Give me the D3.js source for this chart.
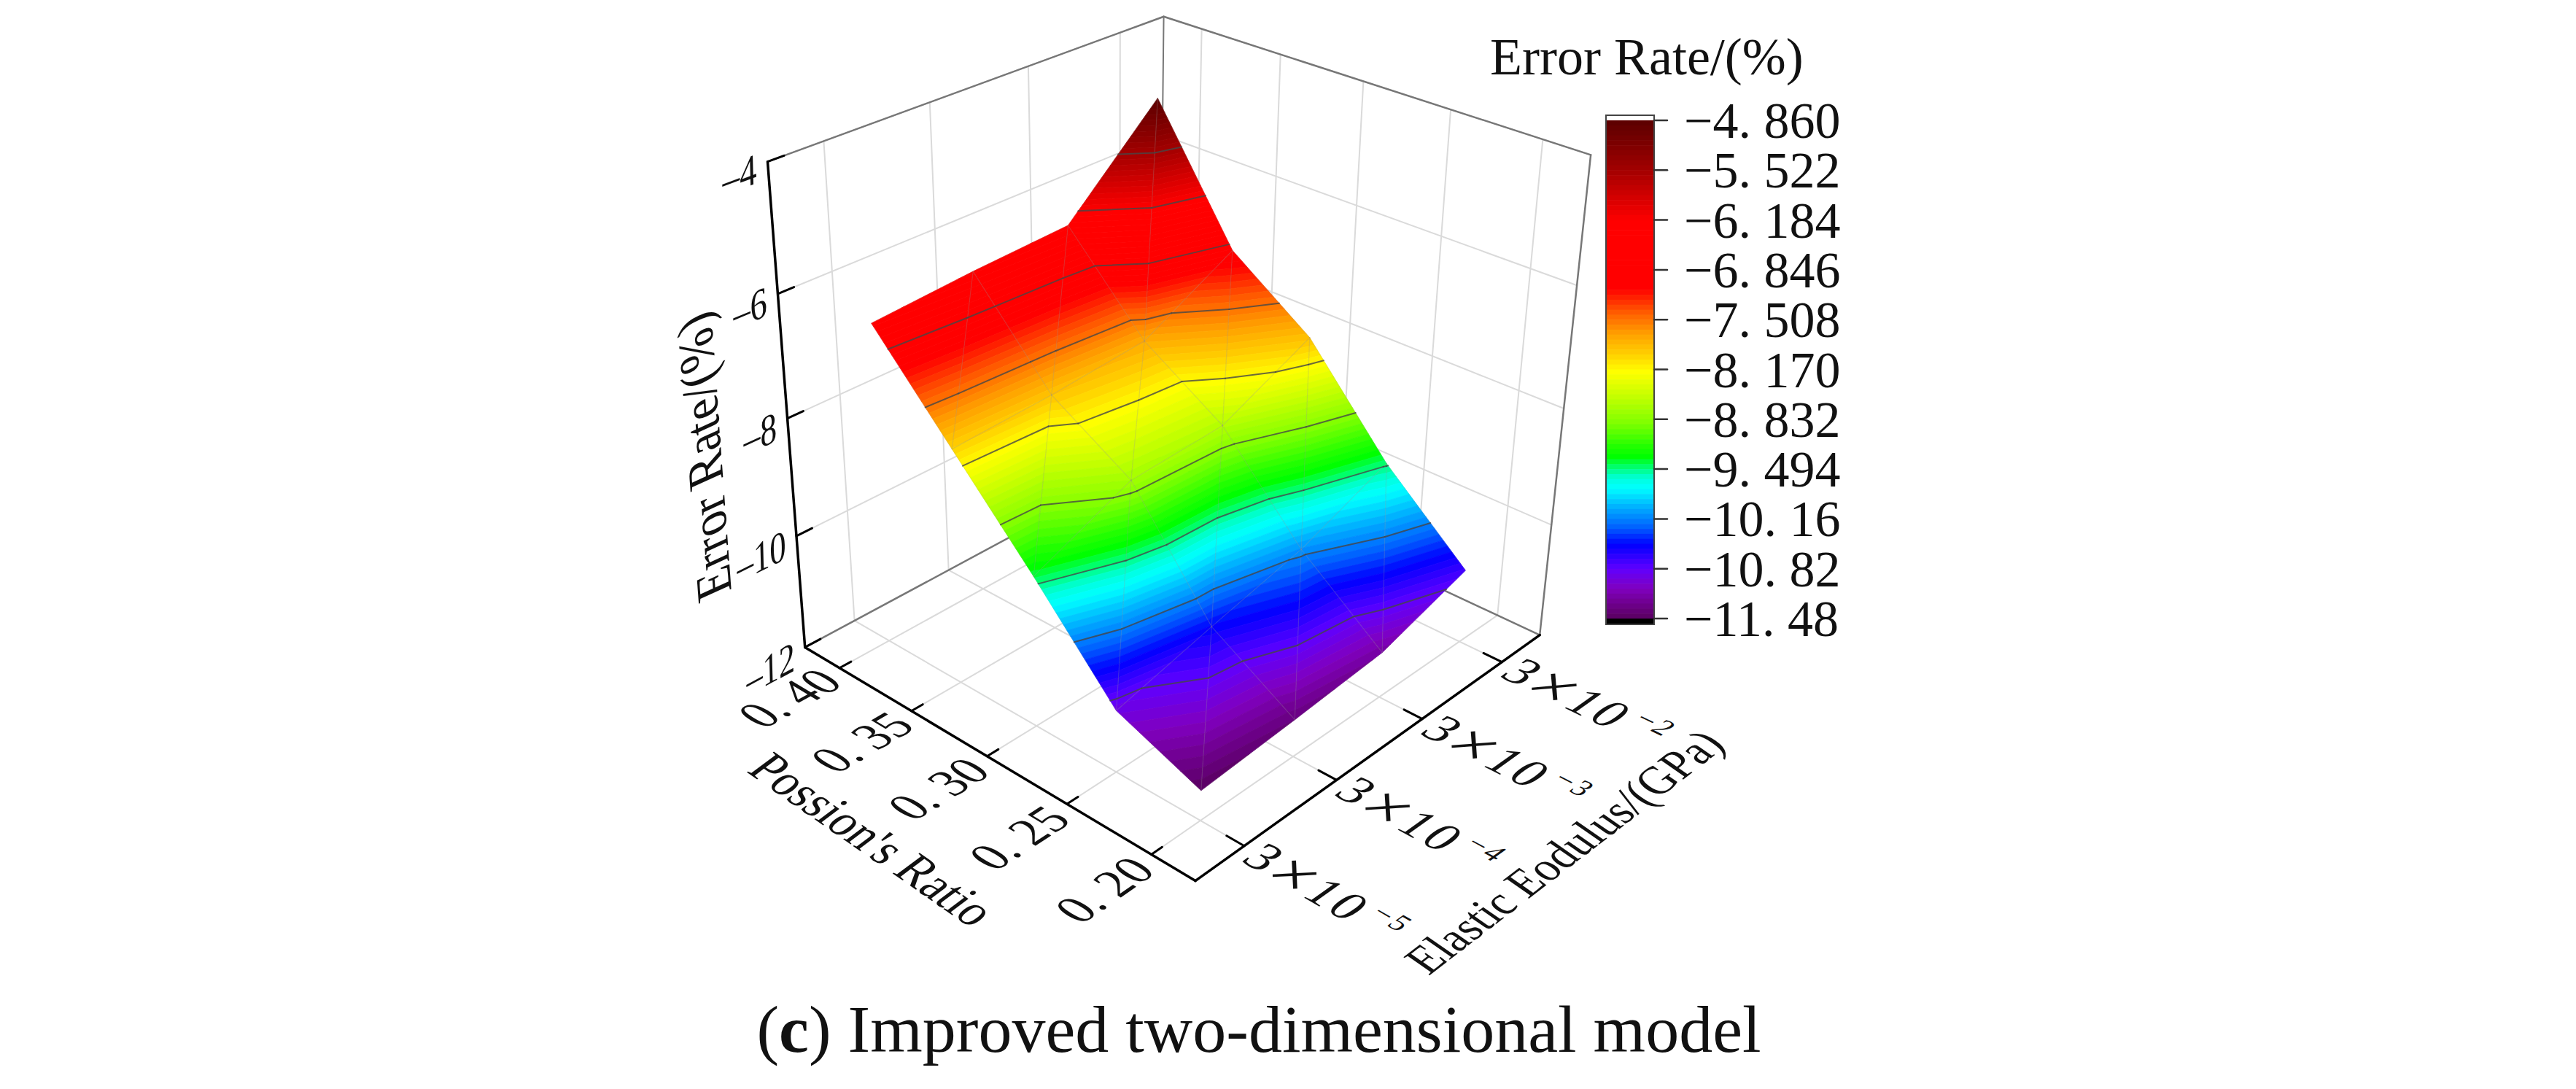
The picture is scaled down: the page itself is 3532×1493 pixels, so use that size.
<!DOCTYPE html>
<html>
<head>
<meta charset="utf-8">
<style>
  body { margin: 0; background: #fff; }
  text { font-family: "Liberation Serif", serif; fill: #111; }
</style>
<script src="https://d3js.org/d3.v7.min.js"></script>
</head>
<body>
<div id="chart"></div>
<script>
// values
const poissonTicks = [0.40, 0.35, 0.30, 0.25, 0.20];
const modulusTicks = [3e-5, 3e-4, 3e-3, 3e-2];
const modulusExponents = ["−5", "−4", "−3", "−2"];
const errorTicks = [-4, -6, -8, -10, -12];
const errorP040 = [-6.55, -6.43, -6.35, -4.86];
const errorP035 = [-7.98, -7.90, -7.76, -6.93];
const errorP030 = [-9.41, -8.70, -8.61, -7.88];
const errorP025 = [-10.93, -10.50, -10.10, -9.47];
const errorP020 = [-11.48, -11.35, -11.20, -10.70];
const errorRows = [errorP040, errorP035, errorP030, errorP025, errorP020];

const legendValues = [-4.86, -5.522, -6.184, -6.846, -7.508, -8.17, -8.832, -9.494, -10.156, -10.818, -11.48];
const legendLabels = ["−4. 860", "−5. 522", "−6. 184", "−6. 846", "−7. 508", "−8. 170", "−8. 832", "−9. 494", "−10. 16", "−10. 82", "−11. 48"];
const colorValues = [-4.86, -5.5, -6.2, -7.1, -7.43, -7.7, -7.97, -8.2, -8.55, -8.88, -9.2, -9.33, -9.49, -9.62, -9.75, -10.0, -10.27, -10.5, -10.82, -11.08, -11.27, -11.48];
const colorRange = ["#5a0000", "#a00000", "#ff0000", "#ff0000", "#ff6000", "#ffa000", "#ffd000", "#ffff00", "#c0ff00", "#80ff00", "#20ff00", "#00ff00", "#00ff80", "#00ffdd", "#00ffff", "#00b0ff", "#0060ff", "#0000ff", "#6000ff", "#8000c0", "#700090", "#5a0060"];

const W = 3532, H = 1493;
const svg = d3.select("#chart").append("svg").attr("width", W).attr("height", H);

const pScale = d3.scaleLinear().domain([0.175, 0.425]).range([0, 1]);
const eScale = d3.scaleLog().domain([3e-5 / Math.sqrt(10), 3e-2 * Math.sqrt(10)]).range([0, 1]);
const zScale = d3.scaleLinear().domain([-12, -4]).range([0, 1]);
const color = d3.scaleLinear().domain(colorValues).range(colorRange).clamp(true);

// box corners on screen, used to fit a perspective camera [u, v, w, x, y]
const calib = [
  [0, 0, 0, 1638, 1210],
  [1, 0, 0, 1105, 885],
  [0, 1, 0, 2113, 867],
  [1, 1, 0, 1587, 630],
  [1, 0, 1, 1052, 222],
  [1, 1, 1, 1597, 21],
  [0, 1, 1, 2180, 214]
];

function solveCamera(pts) {
  const rows = [], rhs = [];
  pts.forEach(([u, v, w, x, y]) => {
    rows.push([u, v, w, 1, 0, 0, 0, 0, -x * u, -x * v, -x * w]); rhs.push(x);
    rows.push([0, 0, 0, 0, u, v, w, 1, -y * u, -y * v, -y * w]); rhs.push(y);
  });
  const n = 11;
  const m = d3.range(n).map(i => {
    const r = d3.range(n).map(j => d3.sum(rows, row => row[i] * row[j]));
    r.push(d3.sum(rows, (row, k) => row[i] * rhs[k]));
    return r;
  });
  for (let c = 0; c < n; c++) {
    let best = c;
    for (let r = c + 1; r < n; r++) if (Math.abs(m[r][c]) > Math.abs(m[best][c])) best = r;
    [m[c], m[best]] = [m[best], m[c]];
    for (let r = 0; r < n; r++) {
      if (r === c) continue;
      const f = m[r][c] / m[c][c];
      for (let k = c; k <= n; k++) m[r][k] -= f * m[c][k];
    }
  }
  return d3.range(n).map(i => m[i][n] / m[i][i]);
}
const cam = solveCamera(calib);

function project(u, v, w) {
  const d = cam[8] * u + cam[9] * v + cam[10] * w + 1;
  return [
    (cam[0] * u + cam[1] * v + cam[2] * w + cam[3]) / d,
    (cam[4] * u + cam[5] * v + cam[6] * w + cam[7]) / d
  ];
}

function unit(a, b) {
  const dx = b[0] - a[0], dy = b[1] - a[1], l = Math.hypot(dx, dy);
  return [dx / l, dy / l];
}

function seg(g, a, b, stroke, width) {
  g.append("line")
    .attr("x1", a[0]).attr("y1", a[1]).attr("x2", b[0]).attr("y2", b[1])
    .attr("stroke", stroke).attr("stroke-width", width).attr("stroke-linecap", "round");
}

// text laid in the plane of the box: xd runs along the baseline, yd points down the glyph
function planeText(g, pos, xd, yd, size, anchor) {
  return g.append("text")
    .attr("transform", `matrix(${xd[0]},${xd[1]},${yd[0]},${yd[1]},${pos[0]},${pos[1]})`)
    .attr("font-size", size)
    .attr("text-anchor", anchor)
    .attr("dy", "0.33em");
}

// walls and floor grid
const grid = svg.append("g");
const gridColor = "#dadada";
errorTicks.slice(0, 4).forEach(z => {
  const w = zScale(z);
  seg(grid, project(1, 0, w), project(1, 1, w), gridColor, 2);
  seg(grid, project(1, 1, w), project(0, 1, w), gridColor, 2);
});
modulusTicks.forEach(e => {
  const v = eScale(e);
  seg(grid, project(1, v, 0), project(1, v, 1), gridColor, 2);
  seg(grid, project(1, v, 0), project(0, v, 0), gridColor, 2);
});
poissonTicks.forEach(p => {
  const u = pScale(p);
  seg(grid, project(u, 1, 0), project(u, 1, 1), gridColor, 2);
  seg(grid, project(u, 0, 0), project(u, 1, 0), gridColor, 2);
});

// back edges of the box
const frame = svg.append("g");
const frameColor = "#777";
seg(frame, project(1, 1, 0), project(1, 1, 1), frameColor, 2);
seg(frame, project(0, 1, 0), project(0, 1, 1), frameColor, 2.5);
seg(frame, project(1, 0, 1), project(1, 1, 1), frameColor, 2.5);
seg(frame, project(1, 1, 1), project(0, 1, 1), frameColor, 2.5);
seg(frame, project(1, 0, 0), project(1, 1, 0), frameColor, 2.5);
seg(frame, project(1, 1, 0), project(0, 1, 0), frameColor, 2.5);

// surface triangles, split along the (i, j + 1) - (i + 1, j) diagonal
const vert = (i, j) => ({ u: pScale(poissonTicks[i]), v: eScale(modulusTicks[j]), z: errorRows[i][j] });
const triangles = [];
for (let i = 0; i < poissonTicks.length - 1; i++) {
  for (let j = 0; j < modulusTicks.length - 1; j++) {
    triangles.push([vert(i, j), vert(i + 1, j), vert(i, j + 1)]);
    triangles.push([vert(i + 1, j), vert(i + 1, j + 1), vert(i, j + 1)]);
  }
}
const toScreen = d => project(d.u, d.v, zScale(d.z));
const lerp = (a, b, t) => ({ u: a.u + (b.u - a.u) * t, v: a.v + (b.v - a.v) * t, z: a.z + (b.z - a.z) * t });

function clip(poly, level, keepAbove) {
  const out = [];
  poly.forEach((a, k) => {
    const b = poly[(k + 1) % poly.length];
    const inA = keepAbove ? a.z >= level : a.z <= level;
    const inB = keepAbove ? b.z >= level : b.z <= level;
    if (inA) out.push(a);
    if (inA !== inB) out.push(lerp(a, b, (level - a.z) / (b.z - a.z)));
  });
  return out;
}

const step = 0.0662;
const bandEdges = d3.range(0, 101).map(k => -4.86 - k * step);
const line = d3.line();
const surface = svg.append("g");
triangles.forEach(tri => {
  d3.pairs(bandEdges).forEach(([hi, lo]) => {
    const poly = clip(clip(tri, lo, true), hi, false);
    if (poly.length < 3) return;
    const c = color((hi + lo) / 2);
    surface.append("path")
      .attr("d", line(poly.map(toScreen)) + "Z")
      .attr("fill", c).attr("stroke", c).attr("stroke-width", 0.8);
  });
});

// wire mesh
const wire = svg.append("g");
triangles.forEach(tri => {
  d3.range(3).forEach(k => {
    seg(wire, toScreen(tri[k]), toScreen(tri[(k + 1) % 3]), "rgba(150,150,150,0.14)", 1.2);
  });
});

// contour lines at the legend ticks
const contours = svg.append("g");
legendValues.slice(1, -1).forEach(level => {
  triangles.forEach(tri => {
    const hits = [];
    tri.forEach((a, k) => {
      const b = tri[(k + 1) % 3];
      if ((a.z - level) * (b.z - level) < 0) hits.push(lerp(a, b, (level - a.z) / (b.z - a.z)));
    });
    if (hits.length === 2) seg(contours, toScreen(hits[0]), toScreen(hits[1]), "rgba(70,70,70,0.8)", 2);
  });
});

// front axes
const axes = svg.append("g");
seg(axes, project(1, 0, 0), project(1, 0, 1), "#000", 3.5);
seg(axes, project(1, 0, 0), project(0, 0, 0), "#000", 3.5);
seg(axes, project(0, 0, 0), project(0, 1, 0), "#000", 3.5);

errorTicks.forEach(z => {
  const w = zScale(z);
  const t = project(1, 0, w);
  const xd = unit(t, project(1, 1, w));
  seg(axes, t, [t[0] + xd[0] * 24, t[1] + xd[1] * 24], "#000", 3);
  const pos = [t[0] - xd[0] * 16, t[1] - xd[1] * 16 + 4];
  planeText(axes, pos, xd, [0.03, 1.2], 50, "end").text("–" + Math.abs(z));
});

poissonTicks.forEach(p => {
  const u = pScale(p);
  const t = project(u, 0, 0);
  const xd = unit(t, project(u, 1, 0));
  const yd = unit(project(u + 0.02, 0, 0), project(u - 0.02, 0, 0));
  seg(axes, t, [t[0] + xd[0] * 18, t[1] + xd[1] * 18], "#000", 3);
  const pos = [t[0] - xd[0] * 18 + yd[0] * 4, t[1] - xd[1] * 18 + yd[1] * 4];
  planeText(axes, pos, xd, [yd[0] * 1.1, yd[1] * 1.1], 64, "end").text(p.toFixed(2).replace(".", ". "));
});

modulusTicks.forEach((e, k) => {
  const v = eScale(e);
  const t = project(0, v, 0);
  const xd = unit(project(1, v, 0), t);
  const yd = unit(project(0, v + 0.02, 0), project(0, v - 0.02, 0));
  seg(axes, t, [t[0] - xd[0] * 28, t[1] - xd[1] * 28], "#000", 3);
  const label = planeText(axes, [t[0] + xd[0] * 14, t[1] + xd[1] * 14], xd, yd, 68, "start");
  label.attr("letter-spacing", 4).text("3");
  label.append("tspan").attr("font-size", 96).attr("dy", 9).text("×");
  label.append("tspan").attr("dy", -9).text("10");
  label.append("tspan").attr("font-size", 40).attr("dy", -26).attr("dx", 8).text(modulusExponents[k]);
});

// axis titles
const dirZ = unit(project(1, 0, 0.5), project(1, 1, 0.5));
const tall = d => [d[0] * 1.15, d[1] * 1.15];
planeText(svg, [966, 626], unit([973, 810], [945, 430]), tall(dirZ), 65, "middle").text("Error Rate/(%)");
planeText(svg, [1196, 1151], [0.82, 0.57], tall([-0.8, 0.6]), 62, "middle").text("Possion's Ratio");
planeText(svg, [2145, 1168], [0.79, -0.61], tall([0.82, 0.57]), 58, "middle").text("Elastic Eodulus/(GPa)");

// colour legend
const legend = svg.append("g");
const legendY = d3.scaleLinear().domain([-4.86, -11.48]).range([165, 848]);
const barX = 2202, barW = 66;
legend.append("rect").attr("x", barX).attr("y", 158).attr("width", barW).attr("height", 8).attr("fill", "#fff");
d3.pairs(bandEdges).forEach(([hi, lo]) => {
  legend.append("rect")
    .attr("x", barX).attr("width", barW)
    .attr("y", legendY(hi)).attr("height", legendY(lo) - legendY(hi) + 0.6)
    .attr("fill", color((hi + lo) / 2));
});
legend.append("rect").attr("x", barX).attr("y", 848).attr("width", barW).attr("height", 8).attr("fill", "#000");
legend.append("rect").attr("x", barX).attr("y", 158).attr("width", barW).attr("height", 698)
  .attr("fill", "none").attr("stroke", "#444").attr("stroke-width", 2);
legendValues.forEach((val, k) => {
  const y = legendY(val);
  seg(legend, [barX + barW, y], [2286, y], "#333", 2.5);
  legend.append("text").attr("x", 2309).attr("y", y + 24).attr("font-size", 70).text(legendLabels[k]);
});
legend.append("text").attr("x", 2043).attr("y", 102).attr("font-size", 72).text("Error Rate/(%)");

// caption
const caption = svg.append("text").attr("x", 1726).attr("y", 1442)
  .attr("font-size", 92).attr("text-anchor", "middle");
caption.append("tspan").text("(");
caption.append("tspan").attr("font-weight", "bold").text("c");
caption.append("tspan").text(") Improved two-dimensional model");
</script>
</body>
</html>
